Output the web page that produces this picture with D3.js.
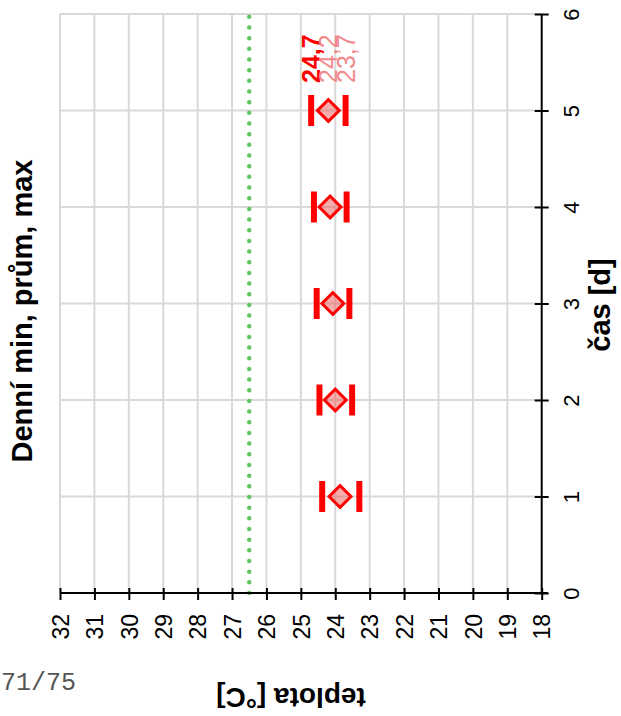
<!DOCTYPE html>
<html>
<head>
<meta charset="utf-8">
<script src="https://cdn.jsdelivr.net/npm/d3@7"></script>
<style>
  html, body { margin: 0; padding: 0; background: #fff; }
  svg { display: block; }
</style>
</head>
<body>
<svg id="chart" width="621" height="716"></svg>
<script>
// Daily temperature summary: min / mean / max per day
const days = [1, 2, 3, 4, 5];
const tMax = [24.38, 24.46, 24.54, 24.62, 24.7];
const tAvg = [23.86, 24.0, 24.07, 24.15, 24.2];
const tMin = [23.3, 23.51, 23.59, 23.67, 23.7];
const limit = 26.5;

const tempTicks = [32, 31, 30, 29, 28, 27, 26, 25, 24, 23, 22, 21, 20, 19, 18];
const dayTicks = [0, 1, 2, 3, 4, 5, 6];

const lastLabels = [
  { v: tMax[4], text: "24,7", bold: true, color: "#ff0000" },
  { v: tAvg[4], text: "24,2", bold: false, color: "#f08a8a" },
  { v: tMin[4], text: "23,7", bold: false, color: "#f08a8a" }
];

const svg = d3.select("#chart");

// temperature runs along the horizontal, time along the vertical
const x = d3.scaleLinear().domain([32, 18]).range([60, 541.7]);
const y = d3.scaleLinear().domain([0, 6]).range([593, 14]);

const grid = svg.append("g").attr("stroke", "#d9d9d9").attr("stroke-width", 2);
grid.selectAll("line.v").data(tempTicks.filter(t => t !== 18)).join("line")
  .attr("class", "v")
  .attr("x1", d => x(d)).attr("x2", d => x(d))
  .attr("y1", y(6)).attr("y2", y(0));
grid.selectAll("line.h").data(dayTicks.filter(t => t !== 0)).join("line")
  .attr("class", "h")
  .attr("x1", x(32)).attr("x2", x(18))
  .attr("y1", d => y(d)).attr("y2", d => y(d));

// reference temperature limit (dotted)
svg.append("line")
  .attr("x1", x(limit)).attr("x2", x(limit))
  .attr("y1", y(0)).attr("y2", y(6))
  .attr("stroke", "#62c462")
  .attr("stroke-width", 4.5)
  .attr("stroke-linecap", "round")
  .attr("stroke-dasharray", "0 10.67");

// temperature axis
const xAxis = svg.append("g")
  .attr("transform", `translate(0,${y(0)})`)
  .call(d3.axisBottom(x).tickValues(tempTicks).tickSize(0).tickFormat(""));
xAxis.select(".domain").attr("stroke", "#000").attr("stroke-width", 2)
  .attr("d", `M${x(32)},0H${x(18) + 6}`);
xAxis.selectAll(".tick line").remove();
xAxis.selectAll(".tick").append("line")
  .attr("y1", -5).attr("y2", 7)
  .attr("stroke", "#000").attr("stroke-width", 2);
xAxis.selectAll(".tick").append("text")
  .attr("transform", "translate(8.2,21) rotate(-90)")
  .attr("text-anchor", "end")
  .attr("fill", "#000")
  .attr("font-family", "'Liberation Sans', Arial, sans-serif")
  .attr("font-size", 23)
  .text(d => d);

// time axis
const yAxis = svg.append("g")
  .attr("transform", `translate(${x(18)},0)`)
  .call(d3.axisRight(y).tickValues(dayTicks).tickSize(0).tickFormat(""));
yAxis.select(".domain").attr("stroke", "#000").attr("stroke-width", 2)
  .attr("d", `M0,${y(0)}V${y(6)}`);
yAxis.selectAll(".tick line").remove();
yAxis.selectAll(".tick").append("line")
  .attr("x1", -7).attr("x2", 7)
  .attr("stroke", "#000").attr("stroke-width", 2);
yAxis.selectAll(".tick").append("text")
  .attr("transform", "translate(37.5,0) rotate(-90)")
  .attr("text-anchor", "middle")
  .attr("fill", "#000")
  .attr("font-family", "'Liberation Sans', Arial, sans-serif")
  .attr("font-size", 22)
  .text(d => d);

// daily marks
const rows = days.map((d, i) => ({ d, max: tMax[i], avg: tAvg[i], min: tMin[i] }));
const marks = svg.append("g");
const barH = 31, barW = 6;
marks.selectAll("rect.max").data(rows).join("rect")
  .attr("x", r => x(r.max) - barW / 2).attr("y", r => y(r.d) - barH / 2)
  .attr("width", barW).attr("height", barH).attr("fill", "#ff0000");
marks.selectAll("rect.min").data(rows).join("rect")
  .attr("x", r => x(r.min) - barW / 2).attr("y", r => y(r.d) - barH / 2)
  .attr("width", barW).attr("height", barH).attr("fill", "#ff0000");
const diamond = d3.symbol(d3.symbolSquare, 240);
marks.selectAll("path.avg").data(rows).join("path")
  .attr("d", diamond)
  .attr("transform", r => `translate(${x(r.avg)},${y(r.d)}) rotate(45)`)
  .attr("fill", "rgba(240,90,90,0.5)")
  .attr("stroke", "#ff0000")
  .attr("stroke-width", 3);

// values for the last day
svg.append("g").selectAll("text").data(lastLabels).join("text")
  .attr("transform", d => `translate(${x(d.v) + 9},${83}) rotate(-90)`)
  .attr("text-anchor", "start")
  .attr("font-family", "'Liberation Sans', Arial, sans-serif")
  .attr("font-size", 25)
  .attr("font-weight", d => d.bold ? "bold" : "normal")
  .attr("fill", d => d.color)
  .text(d => d.text);

// titles
svg.append("text")
  .attr("transform", "translate(32,311) rotate(-90)")
  .attr("text-anchor", "middle")
  .attr("font-family", "'Liberation Sans', Arial, sans-serif")
  .attr("font-weight", "bold").attr("font-size", 29)
  .text("Denní min, prům, max");

svg.append("text")
  .attr("transform", "translate(610,305) rotate(-90)")
  .attr("text-anchor", "middle")
  .attr("font-family", "'Liberation Sans', Arial, sans-serif")
  .attr("font-weight", "bold").attr("font-size", 29)
  .text("čas [d]");

svg.append("text")
  .attr("transform", "translate(291,688) rotate(180)")
  .attr("text-anchor", "middle")
  .attr("font-family", "'Liberation Sans', Arial, sans-serif")
  .attr("font-weight", "bold").attr("font-size", 28)
  .text("teplota [°C]");

svg.append("text")
  .attr("x", 1).attr("y", 690)
  .attr("font-family", "'Liberation Mono', 'Courier New', monospace")
  .attr("font-size", 25)
  .attr("fill", "#555")
  .text("71/75");
</script>
</body>
</html>
